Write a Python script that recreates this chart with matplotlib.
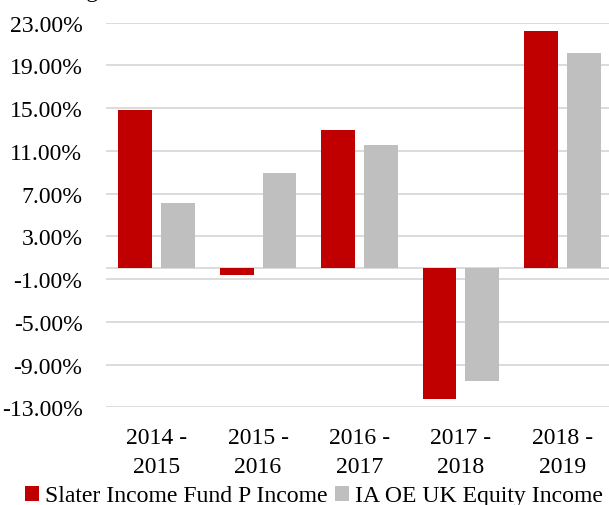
"""Annual returns: Slater Income Fund P Income vs IA OE UK Equity Income."""

import matplotlib
matplotlib.use("Agg")
import matplotlib.pyplot as plt
import numpy as np
from matplotlib.patches import Patch
from matplotlib.ticker import FuncFormatter

periods = ["2014 -\n2015", "2015 -\n2016", "2016 -\n2017", "2017 -\n2018", "2018 -\n2019"]
slater = [14.85, -0.6, 12.9, -12.2, 22.2]
sector = [6.1, 8.9, 11.5, -10.5, 20.1]
series_names = ["Slater Income Fund P Income", "IA OE UK Equity Income"]
y_ticks = [-13, -9, -5, -1, 3, 7, 11, 15, 19, 23]

RED = "#C00000"
GREY = "#BFBFBF"
GRID = "#D9D9D9"

plt.rcParams["font.family"] = ["Liberation Serif", "DejaVu Serif"]
FS = 17.1

fig = plt.figure(figsize=(6.09, 5.06), dpi=100)
# plot area runs a little past the right edge, as in the source image
ax = fig.add_axes([106 / 609, 97.7 / 506, 507 / 609, 384.8 / 506])

x = np.arange(len(periods))
w = 0.332
ax.bar(x - 0.211, slater, width=w, color=RED, zorder=3)
ax.bar(x + 0.211, sector, width=w, color=GREY, zorder=3)

ax.set_xlim(-0.5, len(periods) - 0.5)
ax.set_ylim(-13, 23)
ax.set_yticks(y_ticks)
ax.yaxis.set_major_formatter(FuncFormatter(lambda v, _: f"{v:.2f}%"))
ax.set_xticks(x)
ax.set_xticklabels(periods, linespacing=1.5)
ax.tick_params(axis="y", length=0, pad=17, labelsize=FS)
ax.tick_params(axis="x", length=0, pad=14, labelsize=FS)

ax.grid(axis="y", color=GRID, linewidth=1.3, zorder=0)
ax.axhline(0, color=GRID, linewidth=1.3, zorder=2)
for s in ax.spines.values():
    s.set_visible(False)

# title sits almost entirely above the visible area, only its descenders show
fig.text(32 / 609, 1.0 + 3 / 506, "Total growth", fontsize=FS, ha="left",
         va="baseline")

handles = [Patch(facecolor=RED), Patch(facecolor=GREY)]
fig.legend(handles, series_names, loc="center", bbox_to_anchor=(314 / 609, 1 - 497 / 506),
           ncol=2, frameon=False, fontsize=FS, handlelength=0.6, handleheight=0.6,
           handletextpad=0.25, columnspacing=0.3, borderaxespad=0, borderpad=0)

fig.savefig("out.png", dpi=100)
